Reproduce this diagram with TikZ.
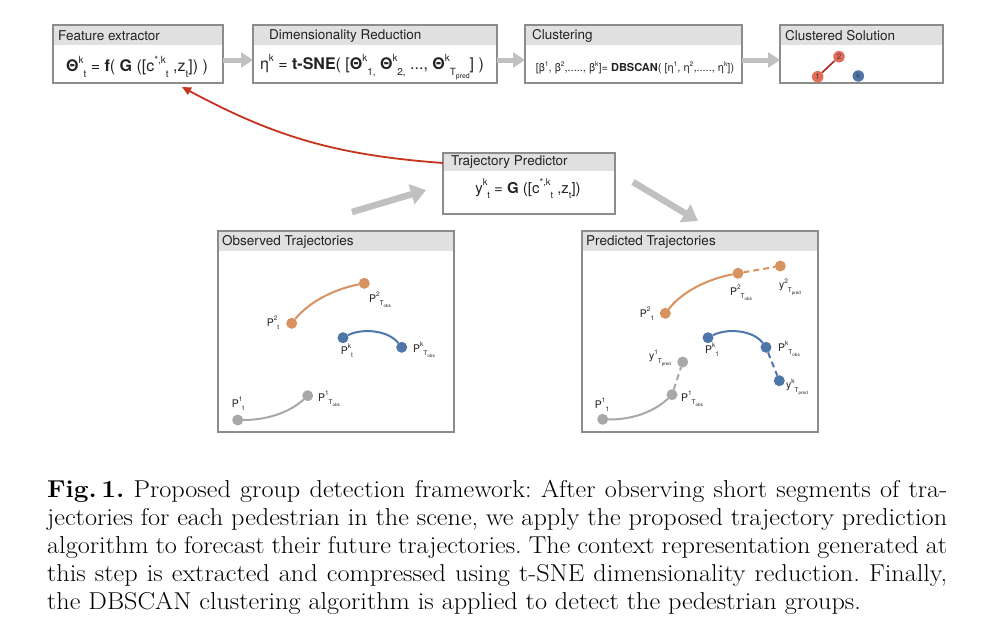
\documentclass[tikz,border=0pt]{standalone}
\usepackage{fontspec}
\usepackage{graphicx}
\usetikzlibrary{arrows.meta}
\newfontfamily\hv{TeX Gyre Heros}
\definecolor{boxgray}{RGB}{140,140,140}
\definecolor{hdrgray}{RGB}{224,224,224}
\definecolor{arrgray}{RGB}{192,192,192}
\definecolor{torange}{RGB}{216,146,96}
\definecolor{tblue}{RGB}{78,118,168}
\definecolor{tgray}{RGB}{168,168,168}
\definecolor{tred}{RGB}{196,52,28}
\definecolor{csred}{RGB}{226,108,88}
\definecolor{txt}{RGB}{35,35,35}
\newcommand\up[2][0.62]{\raisebox{0.5em}{\scalebox{#1}{#2}}}
\newcommand\dn[2][0.62]{\raisebox{-0.35em}{\scalebox{#1}{#2}}}
\newcommand\obs{T\raisebox{-0.3em}{\scalebox{0.7}{obs}}}
\newcommand\pred{T\raisebox{-0.3em}{\scalebox{0.7}{pred}}}
\newcommand\capline[2][s]{\scalebox{1.075}[1]{\makebox[837.2pt][#1]{#2}}}
\begin{document}
\begin{tikzpicture}[x=1pt,y=-1pt,
  panel/.style={draw=boxgray,line width=2pt,fill=white,inner sep=0pt,outer sep=0pt,anchor=north west},
  hdr/.style={fill=hdrgray},
  ptitle/.style={font=\hv\fontsize{13.5}{15}\selectfont,text=txt,inner sep=0pt,anchor=west},
  formula/.style={font=\hv,text=txt,inner sep=0pt},
  gblock/.style={draw=arrgray,line width=5pt,-{Triangle[length=12pt,width=15pt]}},
  gblockbig/.style={draw=arrgray,line width=6.5pt,-{Triangle[length=15pt,width=20pt]}},
  redarrow/.style={draw=tred,line width=1.8pt,-{Triangle[length=9pt,width=8pt]}},
  pt/.style={circle,inner sep=0pt,minimum size=11pt,outer sep=0pt},
  traj/.style={line width=2pt},
  lbl/.style={font=\hv\fontsize{10.5}{12}\selectfont,text=txt,inner sep=0pt},
  csnode/.style={circle,inner sep=0pt,minimum size=11.5pt,font=\hv\fontsize{8}{9}\selectfont,text=black!75}
]
\useasboundingbox (0,0) rectangle (1002,637);
\fill[white] (0,0) rectangle (1002,637);

% ---------- top row panels ----------
\node[panel,minimum width=170pt,minimum height=58pt] (fe) at (53,25) {};
\fill[hdr] ([xshift=1pt,yshift=-1pt]fe.north west) rectangle ([xshift=-1pt,yshift=-20pt]fe.north east);
\node[ptitle] (fet) at ([xshift=5pt,yshift=-11pt]fe.north west) {Feature extractor};
\node[formula,font=\hv\fontsize{16}{18}\selectfont] (fef) at (137,67)
  {{\bfseries Θ}\up{k}\dn{t} = {\bfseries f}( {\bfseries G} ([c\up{*,k}\dn{t} ,z\dn{t}]) )};

\node[panel,minimum width=244pt,minimum height=58pt] (dr) at (253,25) {};
\fill[hdr] ([xshift=1pt,yshift=-1pt]dr.north west) rectangle ([xshift=-1pt,yshift=-20pt]dr.north east);
\node[ptitle] (drt) at ([xshift=16pt,yshift=-11pt]dr.north west) {Dimensionality Reduction};
\node[formula,font=\hv\fontsize{16}{18}\selectfont] (drf) at (372,67)
  {η\up{k} = {\bfseries t-SNE}( [{\bfseries Θ}\up{k}\dn{1,} {\bfseries Θ}\up{k}\dn{2,} ..., {\bfseries Θ}\up{k}\dn{\pred}] )};

\node[panel,minimum width=217pt,minimum height=58pt] (cl) at (525,25) {};
\fill[hdr] ([xshift=1pt,yshift=-1pt]cl.north west) rectangle ([xshift=-1pt,yshift=-20pt]cl.north east);
\node[ptitle] (clt) at ([xshift=7pt,yshift=-11pt]cl.north west) {Clustering};
\node[formula,font=\hv\fontsize{11}{13}\selectfont] (clf) at (635,68)
  {[β\up{1}, β\up{2},....., β\up{k}]= {\bfseries DBSCAN}( [η\up{1}, η\up{2},....., η\up{k}])};

\node[panel,minimum width=163pt,minimum height=58pt] (cs) at (780,25) {};
\fill[hdr] ([xshift=1pt,yshift=-1pt]cs.north west) rectangle ([xshift=-1pt,yshift=-20pt]cs.north east);
\node[ptitle] (cst) at ([xshift=5pt,yshift=-11pt]cs.north west) {Clustered Solution};
\node[csnode,fill=csred] (c1) at (817.7,76.7) {1};
\node[csnode,fill=csred] (c2) at (839,56.7) {2};
\node[csnode,fill=tblue] (ck) at (858.3,76) {k};
\draw[tred!85!black,line width=1.6pt] (c1) -- (c2);

\draw[gblock] ([yshift=-6pt]fe.east) -- ([yshift=-6pt]dr.west);
\draw[gblock] ([yshift=-6pt]dr.east) -- ([yshift=-6pt]cl.west);
\draw[gblock] ([yshift=-6pt]cl.east) -- ([yshift=-6pt]cs.west);

% ---------- trajectory predictor ----------
\node[panel,minimum width=172pt,minimum height=61pt] (tp) at (443,153) {};
\fill[hdr] ([xshift=1pt,yshift=-1pt]tp.north west) rectangle ([xshift=-1pt,yshift=-18pt]tp.north east);
\node[ptitle] (tpt) at ([xshift=8pt,yshift=-9.5pt]tp.north west) {Trajectory Predictor};
\node[formula,font=\hv\fontsize{15}{17}\selectfont] (tpf) at (528,189)
  {y\up{k}\dn{t} = {\bfseries G} ([c\up{*,k}\dn{t} ,z\dn{t}])};

\coordinate (rs) at ([yshift=-10pt]tp.north west);
\coordinate (re) at ([xshift=129pt,yshift=-4pt]fe.south west);
\draw[redarrow] (rs) to[bend left=12] (re);

\coordinate (a1s) at (352,212);
\coordinate (a1e) at (426,190);
\draw[gblockbig] (a1s) -- (a1e);
\coordinate (a2s) at (633,182);
\coordinate (a2e) at (698,221);
\draw[gblockbig] (a2s) -- (a2e);

% ---------- observed ----------
\node[panel,minimum width=236pt,minimum height=201pt] (ob) at (218,231) {};
\fill[hdr] ([xshift=1pt,yshift=-1pt]ob.north west) rectangle ([xshift=-1pt,yshift=-20pt]ob.north east);
\node[ptitle,font=\hv\fontsize{13.5}{15}\selectfont] (obt) at ([xshift=4pt,yshift=-11pt]ob.north west) {Observed Trajectories};

\node[pt,fill=torange] (o2a) at (291.7,323.3) {};
\node[pt,fill=torange] (o2b) at (364.3,283.3) {};
\draw[traj,torange] (o2a) .. controls (310,301) and (335,289) .. (o2b);
\node[pt,fill=tblue] (oka) at (343,337.7) {};
\node[pt,fill=tblue] (okb) at (401.7,347.3) {};
\draw[traj,tblue] (oka) .. controls (362,328) and (388,330) .. (okb);
\node[pt,fill=tgray] (o1a) at (237.7,420) {};
\node[pt,fill=tgray] (o1b) at (307.7,395.7) {};
\draw[traj,tgray] (o1a) .. controls (268,420) and (290,412) .. (o1b);

\node[lbl] (lo2a) at (273,323) {P\up{2}\dn{t}};
\node[lbl] (lo2b) at (380,300) {P\up{2}\dn{\obs}};
\node[lbl] (loka) at (347,351) {P\up{k}\dn{t}};
\node[lbl] (lokb) at (424,350) {P\up{k}\dn{\obs}};
\node[lbl] (lo1a) at (238,404) {P\up{1}\dn{t}};
\node[lbl] (lo1b) at (329,399) {P\up{1}\dn{\obs}};

% ---------- predicted ----------
\node[panel,minimum width=236pt,minimum height=201pt] (pr) at (582,231) {};
\fill[hdr] ([xshift=1pt,yshift=-1pt]pr.north west) rectangle ([xshift=-1pt,yshift=-20pt]pr.north east);
\node[ptitle,font=\hv\fontsize{13.5}{15}\selectfont] (prt) at ([xshift=4pt,yshift=-11pt]pr.north west) {Predicted Trajectories};

\node[pt,fill=torange] (p2a) at (665.3,313.3) {};
\node[pt,fill=torange] (p2b) at (738,273.3) {};
\node[pt,fill=torange] (p2c) at (780.3,266) {};
\draw[traj,torange] (p2a) .. controls (683,291) and (708,279) .. (p2b);
\draw[traj,torange,dash pattern=on 6pt off 4pt] (p2b) -- (p2c);
\node[pt,fill=tblue] (pka) at (708,337.7) {};
\node[pt,fill=tblue] (pkb) at (766,347.3) {};
\node[pt,fill=tblue] (pkc) at (779.3,380.7) {};
\draw[traj,tblue] (pka) .. controls (727,328) and (753,330) .. (pkb);
\draw[traj,tblue,dash pattern=on 6pt off 4pt] (pkb) -- (pkc);
\node[pt,fill=tgray] (p1a) at (602.7,419.3) {};
\node[pt,fill=tgray] (p1b) at (672,394.7) {};
\node[pt,fill=tgray] (p1c) at (682.7,362) {};
\draw[traj,tgray] (p1a) .. controls (633,420) and (655,411) .. (p1b);
\draw[traj,tgray,dash pattern=on 6pt off 4pt] (p1b) -- (p1c);

\node[lbl] (lp2a) at (647,314) {P\up{2}\dn{1}};
\node[lbl] (lp2b) at (741,293) {P\up{2}\dn{\obs}};
\node[lbl] (lp2c) at (790,287) {y\up{2}\dn{\pred}};
\node[lbl] (lpka) at (712,350) {P\up{k}\dn{1}};
\node[lbl] (lpkb) at (789,349) {P\up{k}\dn{\obs}};
\node[lbl] (lpkc) at (797,387) {y\up{k}\dn{\pred}};
\node[lbl] (lp1c) at (660,358) {y\up{1}\dn{\pred}};
\node[lbl] (lp1b) at (692,399) {P\up{1}\dn{\obs}};
\node[lbl] (lp1a) at (602,405) {P\up{1}\dn{1}};

% ---------- caption ----------
\node[anchor=north west,inner sep=0pt,align=left,font=\fontsize{24.4}{27.9}\selectfont\frenchspacing] (cap) at (47,480)
{\capline{\textbf{Fig.\,1.} Proposed group detection framework: After observing short segments of tra-}\\
\capline{jectories for each pedestrian in the scene, we apply the proposed trajectory prediction}\\
\capline{algorithm to forecast their future trajectories. The context representation generated at}\\
\capline{this step is extracted and compressed using t-SNE dimensionality reduction. Finally,}\\
\capline[l]{the DBSCAN clustering algorithm is applied to detect the pedestrian groups.}};
\end{tikzpicture}
\end{document}
